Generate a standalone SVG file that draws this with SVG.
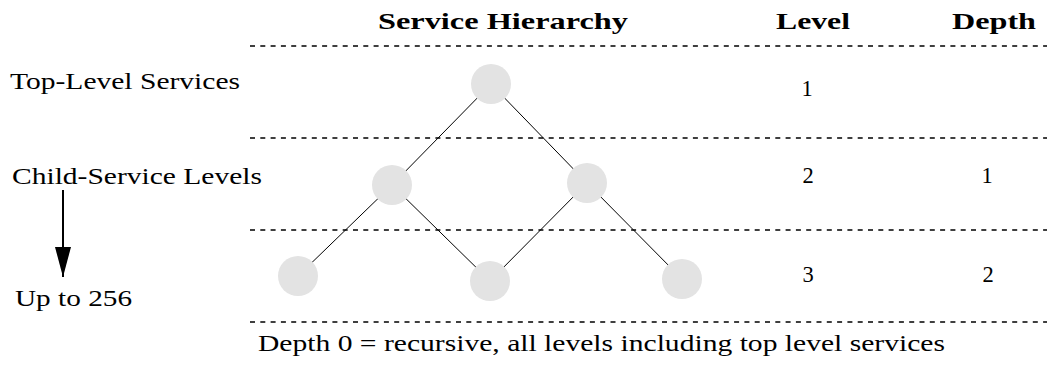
<svg xmlns="http://www.w3.org/2000/svg" width="1047" height="365" viewBox="0 0 1047 365">
<style>
text{font-family:"Liberation Serif","Times New Roman",serif;font-size:22.5px;fill:#000}
.h{font-weight:bold}
.dash{stroke:#000;stroke-width:1.5;stroke-dasharray:5 5.3;fill:none}
.node{fill:#e3e3e3}
.edge{stroke:#000;stroke-width:1;fill:none}
</style>
<defs>
<marker id="ah" markerWidth="30" markerHeight="16" refX="30" refY="8" orient="auto" markerUnits="userSpaceOnUse" viewBox="0 0 30 16">
<path d="M0,0 L30,8 L0,16 Z" fill="#000"/>
</marker>
</defs>
<rect width="1047" height="365" fill="#fff"/>
<g id="headers">
<text class="h" x="378" y="29" textLength="250" lengthAdjust="spacingAndGlyphs">Service Hierarchy</text>
<text class="h" x="776" y="29" textLength="74" lengthAdjust="spacingAndGlyphs">Level</text>
<text class="h" x="952" y="29" textLength="84" lengthAdjust="spacingAndGlyphs">Depth</text>
</g>
<g id="rows">
<line class="dash" x1="250" y1="46" x2="1047" y2="46"/>
<line class="dash" x1="250" y1="138" x2="1047" y2="138"/>
<line class="dash" x1="250" y1="230" x2="1047" y2="230"/>
<line class="dash" x1="250" y1="322" x2="1047" y2="322"/>
</g>
<g id="labels">
<text x="10" y="89" textLength="230" lengthAdjust="spacingAndGlyphs">Top-Level Services</text>
<text x="12" y="184" textLength="250" lengthAdjust="spacingAndGlyphs">Child-Service Levels</text>
<text x="15" y="306" textLength="117" lengthAdjust="spacingAndGlyphs">Up to 256</text>
<text x="258" y="351" textLength="687" lengthAdjust="spacingAndGlyphs">Depth 0 = recursive, all levels including top level services</text>
<text x="807" y="96" text-anchor="middle">1</text>
<text x="808" y="183" text-anchor="middle">2</text>
<text x="987" y="183" text-anchor="middle">1</text>
<text x="808" y="282" text-anchor="middle">3</text>
<text x="988" y="282" text-anchor="middle">2</text>
</g>
<g id="connectors">
<line class="edge" x1="491" y1="84" x2="392" y2="185"/>
<line class="edge" x1="491" y1="84" x2="587" y2="183"/>
<line class="edge" x1="392" y1="185" x2="298" y2="276"/>
<line class="edge" x1="392" y1="185" x2="490" y2="281"/>
<line class="edge" x1="587" y1="183" x2="490" y2="281"/>
<line class="edge" x1="587" y1="183" x2="682" y2="279"/>
<line x1="63" y1="190" x2="63" y2="277" stroke="#000" stroke-width="2" marker-end="url(#ah)"/>
</g>
<g id="n1"><circle class="node" cx="491" cy="84" r="20"/></g>
<g id="n2"><circle class="node" cx="392" cy="185" r="20"/></g>
<g id="n3"><circle class="node" cx="587" cy="183" r="20"/></g>
<g id="n4"><circle class="node" cx="298" cy="276" r="20"/></g>
<g id="n5"><circle class="node" cx="490" cy="281" r="20"/></g>
<g id="n6"><circle class="node" cx="682" cy="279" r="20"/></g>
</svg>
